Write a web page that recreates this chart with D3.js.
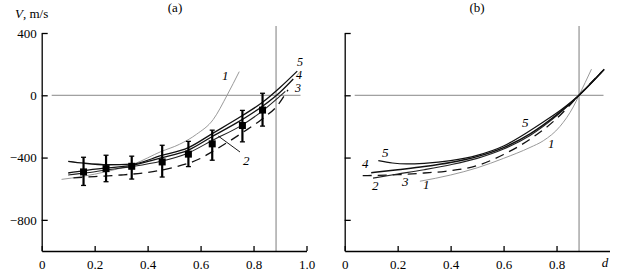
<!DOCTYPE html>
<html>
<head>
<meta charset="utf-8">
<script src="https://cdn.jsdelivr.net/npm/d3@7"></script>
<style>
  body { margin: 0; background: #fff; }
  svg { display: block; }
  svg text { font-family: "Liberation Serif", "Times New Roman", "DejaVu Serif", serif !important; }
</style>
</head>
<body>
<div id="chart"></div>
<script>
/* global d3 */
var dTicks = [0, 0.2, 0.4, 0.6, 0.8, 1.0];
var vTicks = [400, 0, -400, -800];
var dCrit = 0.885;

// measured points with error bars, panel (a)
var pointD = [0.158, 0.243, 0.34, 0.455, 0.554, 0.644, 0.758, 0.834];
var pointV = [-492, -471, -456, -428, -378, -312, -194, -95];
var errLow = [-579, -555, -538, -525, -458, -417, -299, -198];
var errHigh = [-398, -385, -391, -321, -296, -224, -97, 13];

// panel (a) curves, [d, V]
var a1 = [[0.075, -540], [0.15, -522], [0.25, -488], [0.35, -440], [0.45, -362], [0.52, -315], [0.585, -250], [0.648, -155], [0.70, 0], [0.746, 152]];
var a2 = [[0.1, -512], [0.16, -500], [0.25, -478], [0.34, -458], [0.45, -424], [0.554, -370], [0.644, -290], [0.758, -190], [0.834, -100], [0.92, 25]];
var a3 = [[0.12, -530], [0.2, -522], [0.3, -512], [0.4, -495], [0.5, -462], [0.6, -405], [0.644, -362], [0.758, -240], [0.834, -150], [0.893, -60], [0.93, 35]];
var a4 = [[0.1, -499], [0.16, -484], [0.25, -466], [0.34, -450], [0.45, -402], [0.554, -352], [0.644, -265], [0.758, -155], [0.834, -70], [0.9, 20], [0.95, 105]];
var a5 = [[0.1, -424], [0.16, -436], [0.25, -446], [0.34, -442], [0.45, -388], [0.554, -336], [0.644, -246], [0.758, -130], [0.834, -45], [0.9, 50], [0.965, 155]];

// panel (b) curves, [d, V]
var b1 = [[0.284, -552], [0.4, -512], [0.5, -466], [0.6, -405], [0.7, -335], [0.75, -292], [0.813, -200], [0.863, -75], [0.885, 0], [0.932, 168]];
var b2 = [[0.107, -532], [0.2, -506], [0.3, -478], [0.4, -446], [0.5, -405], [0.6, -345], [0.7, -258], [0.8, -132], [0.885, 0], [0.975, 158]];
var b3 = [[0.068, -516], [0.2, -510], [0.3, -499], [0.38, -488], [0.5, -452], [0.6, -380], [0.7, -282], [0.8, -150], [0.885, 0], [0.97, 150]];
var b4 = [[0.1, -497], [0.2, -478], [0.3, -458], [0.4, -432], [0.5, -394], [0.6, -336], [0.7, -248], [0.8, -126], [0.885, 0], [0.98, 165]];
var b5 = [[0.127, -419], [0.18, -435], [0.234, -441], [0.3, -437], [0.4, -420], [0.5, -386], [0.6, -326], [0.686, -242], [0.75, -172], [0.82, -90], [0.885, 0], [0.98, 168]];

var width = 617, height = 277;
var serif = "'Liberation Serif', 'Times New Roman', serif";

var svg = d3.select("#chart").append("svg")
        .attr("width", width)
        .attr("height", height)
        .attr("font-family", serif);

var y = d3.scaleLinear().domain([-1000, 400]).range([251, 33]);
var xa = d3.scaleLinear().domain([0, 1]).range([41.7, 306.5]);
var xb = d3.scaleLinear().domain([0, 1]).range([344.7, 609.5]);

var fmtD = function (d) {
    return d === 0 ? "0" : d3.format(".1f")(d);
};

function drawFrame(x, showYLabels, showLast) {
    var g = svg.append("g");

    // reference lines
    g.append("line")
            .attr("x1", x(0) + 10).attr("x2", x(1) - 6)
            .attr("y1", y(0)).attr("y2", y(0))
            .attr("stroke", "#888").attr("stroke-width", 1);
    g.append("line")
            .attr("x1", x(dCrit)).attr("x2", x(dCrit))
            .attr("y1", 26).attr("y2", y(-1000))
            .attr("stroke", "#888").attr("stroke-width", 1.1);

    var xAxis = d3.axisBottom(x)
            .tickValues(showLast ? dTicks : dTicks.slice(0, 5))
            .tickFormat(fmtD)
            .tickSizeInner(-5)
            .tickSizeOuter(0)
            .tickPadding(9);
    var gx = g.append("g")
            .attr("transform", "translate(0," + y(-1000) + ")")
            .call(xAxis);

    var yAxis = d3.axisLeft(y)
            .tickValues(vTicks)
            .tickSizeInner(-6)
            .tickSizeOuter(0)
            .tickPadding(5)
            .tickFormat(showYLabels ? d3.format("d") : "");
    var gy = g.append("g")
            .attr("transform", "translate(" + x(0) + ",0)")
            .call(yAxis);

    [gx, gy].forEach(function (ax) {
        ax.attr("font-family", serif).attr("font-size", 13);
        ax.selectAll("path, line").attr("stroke", "#000").attr("stroke-width", 1.3);
        ax.selectAll("text").attr("fill", "#000");
    });
    return g;
}

var line = function (x) {
    return d3.line()
            .x(function (d) { return x(d[0]); })
            .y(function (d) { return y(d[1]); })
            .curve(d3.curveMonotoneX);
};

function drawCurve(g, x, data, color, w, dash) {
    g.append("path")
            .datum(data)
            .attr("d", line(x))
            .attr("fill", "none")
            .attr("stroke", color)
            .attr("stroke-width", w)
            .attr("stroke-dasharray", dash || null);
}

function label(g, x, y0, txt, opts) {
    opts = opts || {};
    g.append("text")
            .attr("x", x)
            .attr("y", y0)
            .attr("text-anchor", opts.anchor || "start")
            .attr("font-family", serif)
            .attr("font-size", opts.size || 13)
            .attr("font-style", opts.italic === false ? "normal" : "italic")
            .text(txt);
}

// ---- panel (a)
var ga = drawFrame(xa, true, true);
drawCurve(ga, xa, a1, "#9a9a9a", 1);
drawCurve(ga, xa, a3, "#111", 1.3, "9,6");
drawCurve(ga, xa, a2, "#222", 1.1);
drawCurve(ga, xa, a4, "#111", 1.3);
drawCurve(ga, xa, a5, "#111", 1.3);

// error bars
var pts = pointD.map(function (d, i) {
    return {d: d, v: pointV[i], lo: errLow[i], hi: errHigh[i]};
});
var eb = ga.selectAll("g.err").data(pts).enter().append("g").attr("class", "err");
eb.append("line")
        .attr("x1", function (p) { return xa(p.d); })
        .attr("x2", function (p) { return xa(p.d); })
        .attr("y1", function (p) { return y(p.lo); })
        .attr("y2", function (p) { return y(p.hi); })
        .attr("stroke", "#000").attr("stroke-width", 2.2);
["lo", "hi"].forEach(function (k) {
    eb.append("line")
            .attr("x1", function (p) { return xa(p.d) - 2.5; })
            .attr("x2", function (p) { return xa(p.d) + 2.5; })
            .attr("y1", function (p) { return y(p[k]); })
            .attr("y2", function (p) { return y(p[k]); })
            .attr("stroke", "#000").attr("stroke-width", 1.3);
});
eb.append("rect")
        .attr("x", function (p) { return xa(p.d) - 3.5; })
        .attr("y", function (p) { return y(p.v) - 3.5; })
        .attr("width", 7).attr("height", 7)
        .attr("fill", "#000");

// leader line for curve 2
ga.append("line")
        .attr("x1", xa(0.667)).attr("y1", y(-262))
        .attr("x2", 240).attr("y2", 152)
        .attr("stroke", "#000").attr("stroke-width", 0.9);

label(ga, 222, 80, "1");
label(ga, 243, 165, "2");
label(ga, 295, 92, "3", {size: 12});
label(ga, 296, 79, "4", {size: 12});
label(ga, 297, 66, "5", {size: 12});

label(ga, 15, 18, "V");
label(ga, 23, 18, ", m/s", {italic: false});
label(ga, 175, 12, "(a)", {anchor: "middle", italic: false});

// ---- panel (b)
var gb = drawFrame(xb, false, false);
drawCurve(gb, xb, b1, "#9a9a9a", 1);
drawCurve(gb, xb, b3, "#111", 1.3, "9,6");
drawCurve(gb, xb, b2, "#222", 1.1);
drawCurve(gb, xb, b4, "#111", 1.5);
drawCurve(gb, xb, b5, "#111", 1.2);

label(gb, 548, 148, "1");
label(gb, 423, 189, "1");
label(gb, 402, 186, "3");
label(gb, 372, 190, "2");
label(gb, 362, 168, "4");
label(gb, 382, 157, "5");
label(gb, 522, 127, "5");

label(gb, 605, 267, "d", {anchor: "middle"});
label(gb, 477, 12, "(b)", {anchor: "middle", italic: false});
</script>
</body>
</html>
